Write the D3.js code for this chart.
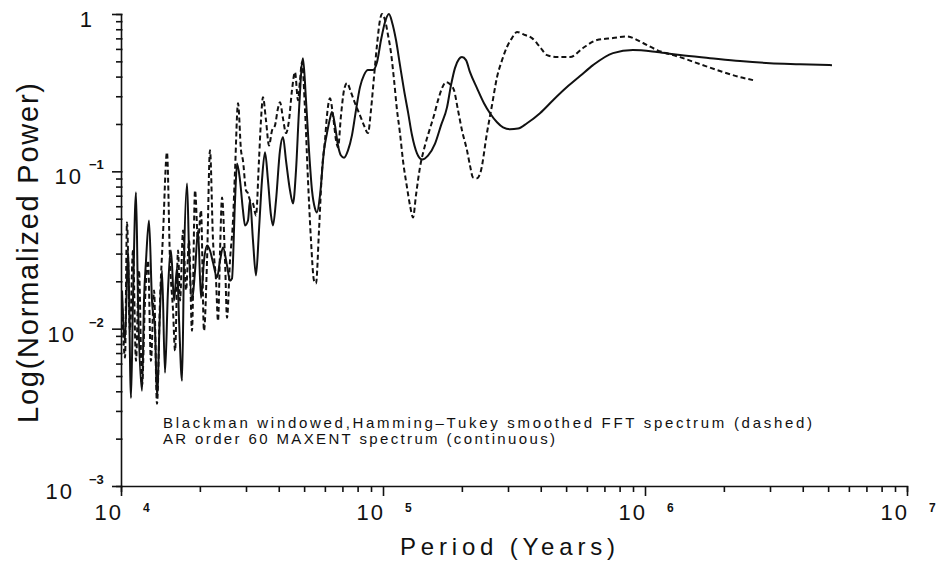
<!DOCTYPE html>
<html><head><meta charset="utf-8">
<script src="https://cdn.jsdelivr.net/npm/d3@7"></script>
<style>body{margin:0;background:#fff}svg{display:block}</style>
</head><body><svg id="c" width="941" height="561"></svg>
<script>
// Blackman-windowed, Hamming-Tukey smoothed FFT spectrum (dashed)
const fftPeriod = [10090,10360,10540,10820,11110,11410,11710,12030,12350,12680,13010,13370,13720,14090,14470,14980,15380,15800,16080,16510,16800,17250,17710,18180,18660,19170,19680,20200,20740,21300,21860,22450,23050,23460,23880,24300,24950,25390,26060,26760,27240,27970,28710,29210,30000,30530,31070,31900,32750,33620,34220,34820,35760,36720,37700,38710,39740,40440,41520,42640,43770,44940,46140,47380,48220,49070,50390,51730,53110,54530,55500,56980,58500,60070,61130,62770,64440,66160,67340,69140,70990,72870,75480,78180,81690,84610,87640,89980,92380,94860,97410,99130,101800,104500,107200,110200,113100,116100,119200,123500,126800,130200,133600,138400,144600,151100,156600,162200,168000,174000,180200,186600,193300,200200,209200,214800,220500,228400,236500,249300,260600,272400,284700,297300,310600,324600,348300,370400,397400,422600,461500,517200,579900,655900,754800,853500,982600,1111000,1360000,1622000,1933000,2305000,2584000];
const fftPower = [0.0151,0.00654,0.0473,0.00971,0.0314,0.00625,0.0234,0.00433,0.0151,0.0271,0.00625,0.0175,0.00333,0.0151,0.0403,0.132,0.0271,0.0130,0.00724,0.0314,0.0151,0.0421,0.0175,0.0363,0.00971,0.0757,0.0363,0.0564,0.00971,0.0271,0.136,0.0363,0.0202,0.0112,0.0314,0.0683,0.0271,0.01175,0.0271,0.0487,0.101,0.271,0.136,0.117,0.0757,0.0724,0.0654,0.0625,0.0524,0.117,0.211,0.296,0.211,0.146,0.182,0.196,0.252,0.275,0.217,0.175,0.211,0.328,0.427,0.283,0.380,0.494,0.245,0.0877,0.0363,0.0202,0.0194,0.0421,0.101,0.158,0.227,0.291,0.227,0.158,0.142,0.227,0.328,0.364,0.318,0.271,0.227,0.196,0.175,0.245,0.397,0.635,0.916,1.0,0.916,0.735,0.573,0.380,0.245,0.175,0.117,0.0790,0.0607,0.0509,0.0703,0.106,0.146,0.187,0.227,0.283,0.338,0.369,0.358,0.328,0.245,0.182,0.136,0.109,0.0916,0.0903,0.101,0.175,0.263,0.397,0.509,0.617,0.703,0.768,0.735,0.703,0.617,0.548,0.532,0.532,0.608,0.683,0.703,0.719,0.654,0.590,0.532,0.480,0.434,0.397,0.380];

// AR order 60 MAXENT spectrum (continuous)
const arPeriod = [10090,10360,10630,10920,11110,11410,11610,12030,12240,12460,12790,13130,13490,13720,14090,14340,14720,15110,15520,15940,16370,16660,17100,17400,17870,18180,18660,19170,19680,20200,20740,21300,21860,22450,23250,23880,24510,25390,26060,26520,27240,27730,28460,29210,29740,30530,31070,31900,32750,33620,34520,35450,36390,37370,38030,39050,40440,41520,42640,44160,45340,46550,47800,49500,50830,52190,53580,55010,55990,57480,59540,61130,62770,63880,65580,67340,69140,70990,73520,76150,78870,81690,84610,87640,91580,94860,98270,101800,105400,108200,112100,116100,120300,124600,129000,134800,140900,148500,158000,166500,175500,181800,188200,194900,200200,207400,214800,228400,242900,256100,272400,287200,305200,327500,354500,397400,445600,503700,564800,633200,754800,899700,1111000,1360000,1771000,2305000,3000000,3905000,5172000];
const arPower = [0.0175,0.00839,0.0314,0.00363,0.0151,0.0735,0.0151,0.00403,0.0151,0.0271,0.0487,0.0151,0.00971,0.00374,0.0130,0.0234,0.00524,0.0175,0.0314,0.0151,0.0245,0.0112,0.00466,0.0271,0.0838,0.0314,0.0151,0.0234,0.0421,0.0157,0.0271,0.0338,0.0314,0.0263,0.0212,0.0271,0.0328,0.0252,0.0202,0.0208,0.0654,0.112,0.0877,0.0564,0.0453,0.0487,0.0654,0.0363,0.0218,0.0421,0.0877,0.132,0.0877,0.0524,0.0453,0.0654,0.136,0.165,0.117,0.0757,0.0625,0.101,0.245,0.524,0.283,0.136,0.0757,0.0581,0.0548,0.0703,0.136,0.175,0.217,0.238,0.196,0.146,0.126,0.122,0.136,0.170,0.245,0.343,0.409,0.440,0.440,0.494,0.683,0.890,1.0,0.890,0.683,0.473,0.328,0.238,0.170,0.130,0.119,0.126,0.150,0.196,0.255,0.353,0.453,0.516,0.532,0.509,0.427,0.338,0.271,0.234,0.205,0.190,0.185,0.187,0.202,0.234,0.283,0.343,0.403,0.473,0.564,0.590,0.573,0.548,0.524,0.502,0.487,0.480,0.473];

const xTicks = [1e4, 1e5, 1e6, 1e7];
const xTickExp = ["4", "5", "6", "7"];
const yTicks = [1, 1e-1, 1e-2, 1e-3];
const yTickBase = ["1", "10", "10", "10"];
const yTickExp = ["", "−1", "−2", "−3"];
const xTitle = "Period  (Years)";
const yTitle = "Log(Normalized  Power)";
const notes = ["Blackman windowed,Hamming–Tukey smoothed FFT spectrum (dashed)",
               "AR order 60 MAXENT spectrum (continuous)"];

const FONT = "'Liberation Sans', Arial, sans-serif";
const INK = "#111";
const svg = d3.select("#c");
svg.append("rect").attr("width", 941).attr("height", 561).attr("fill", "#fff");

const x = d3.scaleLog().domain([1e4, 1e7]).range([121, 907]);
const y = d3.scaleLog().domain([1e-3, 1]).range([486, 14]);

// minor + major tick values
const xAll = [], yAll = [];
for (let e = 4; e < 7; e++) for (let m = 1; m < 10; m++) xAll.push(m * Math.pow(10, e));
xAll.push(1e7);
for (let e = -3; e < 0; e++) for (let m = 1; m < 10; m++) yAll.push(m * Math.pow(10, e));
yAll.push(1);
const isMajor = v => Math.abs(Math.log10(v) - Math.round(Math.log10(v))) < 1e-9;

const gx = svg.append("g").attr("transform", "translate(0,486)")
  .call(d3.axisBottom(x).tickValues(xAll).tickFormat("").tickSizeOuter(0).tickSize(6));
gx.selectAll(".tick line").attr("y2", d => isMajor(d) ? 10 : 6);
const gy = svg.append("g").attr("transform", "translate(121,0)")
  .call(d3.axisLeft(y).tickValues(yAll).tickFormat("").tickSizeOuter(0).tickSize(5));
gy.selectAll(".tick line").attr("x2", d => isMajor(d) ? -9 : -5).attr("x1", 1.5);
svg.selectAll(".domain, .tick line").attr("stroke", INK).attr("stroke-width", 1.6);

// x tick labels
xTicks.forEach((v, i) => {
  svg.append("text").attr("x", x(v) + 2).attr("y", 520)
    .attr("text-anchor", "end").attr("font-family", FONT).attr("font-size", 22)
    .attr("letter-spacing", 2).attr("fill", INK).text("10");
  svg.append("text").attr("x", x(v) + 22).attr("y", 512)
    .attr("text-anchor", "start").attr("font-family", FONT).attr("font-size", 12)
    .attr("font-weight", "bold").attr("fill", INK).text(xTickExp[i]);
});

// y tick labels
const yBaseRight = [92, 83, 76, 74];
yTicks.forEach((v, i) => {
  if (yTickExp[i] === "") {
    svg.append("text").attr("x", yBaseRight[i]).attr("y", y(v) + 13)
      .attr("text-anchor", "end").attr("font-family", FONT).attr("font-size", 22).attr("fill", INK)
      .text(yTickBase[i]);
  } else {
    svg.append("text").attr("x", yBaseRight[i]).attr("y", y(v) + 13)
      .attr("text-anchor", "end").attr("font-family", FONT).attr("font-size", 22)
      .attr("letter-spacing", 2).attr("fill", INK).text(yTickBase[i]);
    svg.append("text").attr("x", 89).attr("y", y(v) - 2)
      .attr("text-anchor", "start").attr("font-family", FONT).attr("font-size", 13)
      .attr("font-weight", "bold").attr("fill", INK).text(yTickExp[i]);
  }
});

// axis titles
svg.append("text").attr("x", 400).attr("y", 555)
  .attr("font-family", FONT).attr("font-size", 24).attr("fill", INK)
  .attr("textLength", 215).attr("lengthAdjust", "spacing").text(xTitle);
svg.append("text").attr("transform", "translate(38,423) rotate(-90)")
  .attr("font-family", FONT).attr("font-size", 29).attr("fill", INK)
  .attr("textLength", 340).attr("lengthAdjust", "spacing").text(yTitle);

// annotation
svg.append("text").attr("x", 163).attr("y", 428)
  .attr("font-family", FONT).attr("font-size", 15).attr("fill", INK)
  .attr("textLength", 649).attr("lengthAdjust", "spacing").text(notes[0]);
svg.append("text").attr("x", 163).attr("y", 444)
  .attr("font-family", FONT).attr("font-size", 15).attr("fill", INK)
  .attr("textLength", 392).attr("lengthAdjust", "spacing").text(notes[1]);

// series
const line = d3.line().x(d => x(d[0])).y(d => y(d[1])).curve(d3.curveMonotoneX);
svg.append("path").datum(d3.zip(fftPeriod, fftPower))
  .attr("d", line).attr("fill", "none").attr("stroke", INK)
  .attr("stroke-width", 2).attr("stroke-dasharray", "5,3");
svg.append("path").datum(d3.zip(arPeriod, arPower))
  .attr("d", line).attr("fill", "none").attr("stroke", INK)
  .attr("stroke-width", 2);
</script>
</body></html>
